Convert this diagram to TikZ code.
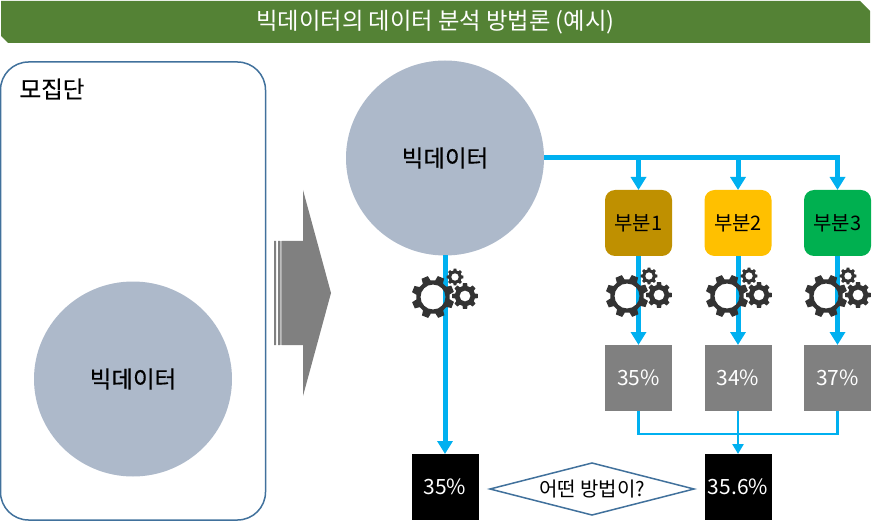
\documentclass[tikz,border=0pt]{standalone}
\usepackage{fontspec}
\setmainfont{Noto Sans CJK KR}
\newfontfamily\heavy[FakeBold=0.3]{Noto Sans CJK KR}
\usetikzlibrary{arrows.meta,shapes.geometric}
\definecolor{ttlgreen}{HTML}{548235}
\definecolor{edgeblue}{HTML}{41719C}
\definecolor{bubble}{HTML}{ADB9CA}
\definecolor{flow}{HTML}{00B0F0}
\definecolor{midgray}{HTML}{808080}
\definecolor{gearc}{HTML}{333333}
\definecolor{partA}{HTML}{BF9000}
\definecolor{partB}{HTML}{FFC000}
\definecolor{partC}{HTML}{00B050}
\newcommand{\onegear}[6]{% x, y, outer r, hole r, teeth, rotation
  \begin{scope}[shift={(#1,#2)}]
  \pgfmathsetmacro{\stp}{360/#5}
  \pgfmathsetmacro{\rt}{#3*0.78}
  \fill[gearc,even odd rule] ({#6-0.32*\stp}:\rt)
    \foreach \i in {1,...,#5}{
      -- ({#6+(\i-1)*\stp-0.2*\stp}:#3) -- ({#6+(\i-1)*\stp+0.2*\stp}:#3)
      -- ({#6+(\i-1)*\stp+0.32*\stp}:\rt) -- ({#6+\i*\stp-0.32*\stp}:\rt)
    } -- cycle (0,0) circle[radius=#4];
  \end{scope}}
\newcommand{\gearset}[2]{% x,y of the big gear centre
  \onegear{#1}{#2}{21.5}{12.5}{8}{22}
  \onegear{#1+32}{#2-1}{13}{5.5}{8}{0}
  \onegear{#1+22}{#2-20}{8.5}{3.8}{8}{0}}
\tikzset{
  every node/.style={inner sep=0pt,outer sep=0pt},
  bubblenode/.style={ellipse,fill=bubble,minimum width=198pt,minimum height=195pt,font=\heavy\fontsize{23.5}{26}\selectfont},
  partbox/.style={rounded corners=10pt,minimum width=67pt,minimum height=66pt,font=\fontsize{20}{22}\selectfont},
  graybox/.style={fill=midgray,minimum width=67pt,minimum height=66pt,text=white,font=\fontsize{21}{23}\selectfont},
  blackbox/.style={fill=black,minimum width=67pt,minimum height=66pt,text=white,font=\fontsize{21}{23}\selectfont},
  thick flow/.style={draw=flow,line width=5pt,-{Triangle[width=15pt,length=13pt]}},
  thin flow/.style={draw=flow,line width=2.5pt},
}
\begin{document}
\begin{tikzpicture}[x=1pt,y=-1pt]
\useasboundingbox (0,0) rectangle (872,521);
\fill[ttlgreen] (1,1) -- (860,1) -- (870,11) -- (870,43) -- (8,43) -- (1,36) -- cycle;
\node[text=white,font=\fontsize{23.3}{25}\selectfont] (title) at (435.5,22) {빅데이터의 데이터 분석 방법론 (예시)};
\node[draw=edgeblue,line width=1.5pt,rounded corners=28pt,minimum width=265pt,minimum height=458pt] (pop) at (133,291) {};
\node[font=\heavy\fontsize{23.5}{26}\selectfont] (poplabel) at (52,89) {모집단};
\node[bubblenode] (small) at (133,379) {빅데이터};
% block arrow
\fill[midgray] (283,241) -- (303,241) -- (303,190) -- (331,293) -- (303,396) -- (303,345) -- (283,345) -- cycle;
\fill[midgray!45] (278,241) rectangle (283,345);
\fill[midgray] (274,241) rectangle (276,345) (278,241) rectangle (280,345) (281.5,241) rectangle (283,345);
\node[bubblenode] (big) at (445,158) {빅데이터};
\node[partbox,fill=partA] (p1) at (638.5,223) {부분1};
\node[partbox,fill=partB] (p2) at (738,223) {부분2};
\node[partbox,fill=partC] (p3) at (837.5,223) {부분3};
\node[graybox] (g1) at (638.5,378) {35\%};
\node[graybox] (g2) at (738,378) {34\%};
\node[graybox] (g3) at (837.5,378) {37\%};
\node[blackbox] (r0) at (445,487) {35\%};
\node[blackbox] (r1) at (738,487) {35.6\%};
\node[diamond,draw=edgeblue,line width=1.5pt,fill=white,minimum width=204pt,minimum height=52pt,aspect=3.9,font=\fontsize{20}{22}\selectfont] (q) at (592,489) {어떤 방법이?};
\coordinate (j) at (738,434);
\draw[thick flow] (big.east) -| (p1.north);
\draw[thick flow] (big.east) -| (p2.north);
\draw[thick flow] (big.east) -| (p3.north);
\draw[thick flow] (big.south) -- (r0.north);
\draw[thick flow] (p1.south) -- (g1.north);
\draw[thick flow] (p2.south) -- (g2.north);
\draw[thick flow] (p3.south) -- (g3.north);
\draw[thin flow] (g1.south) |- (j);
\draw[thin flow] (g3.south) |- (j);
\draw[thin flow,-{Triangle[width=11pt,length=10pt]}] (g2.south) -- (r1.north);
\gearset{433}{297}
\gearset{627}{296}
\gearset{727}{296}
\gearset{826}{296}
\end{tikzpicture}
\end{document}
